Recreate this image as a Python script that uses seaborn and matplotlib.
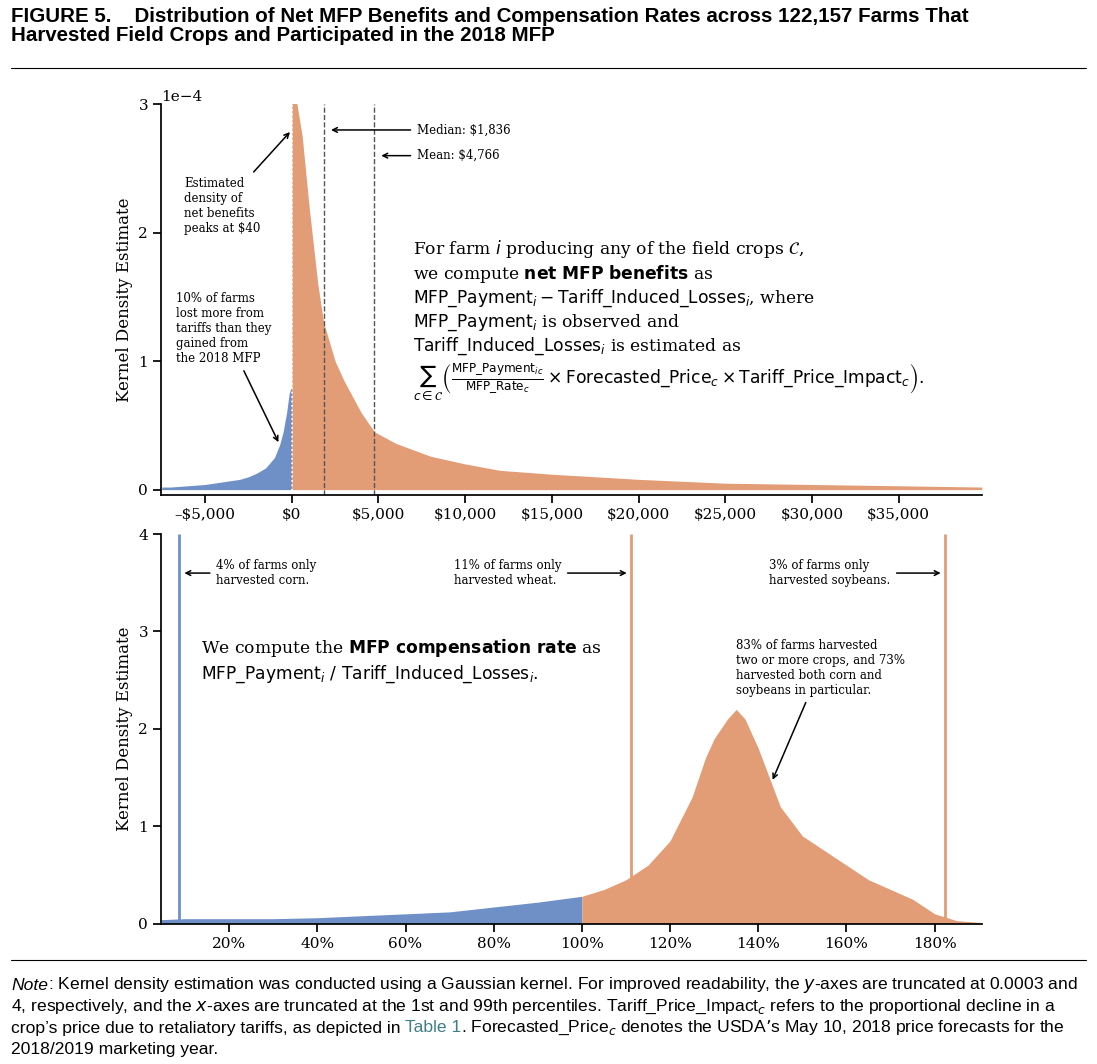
import matplotlib.pyplot as plt
import seaborn as sns
import numpy as np

# ---- data ----
# top panel: density of net MFP benefits (in units of 1e-4)
net_x = [-7500, -7000, -6000, -5000, -4000, -3000, -2500, -2000, -1500, -1000, -700, -500, -300, -150, -50, -1,
         0, 40, 300, 600, 1000, 1500, 1836, 2500, 3000, 4000, 4766, 6000, 8000, 10000, 12000, 15000,
         20000, 25000, 30000, 35000, 39800]
net_y = [0.02, 0.02, 0.03, 0.04, 0.06, 0.08, 0.10, 0.13, 0.17, 0.25, 0.35, 0.45, 0.60, 0.75, 0.79, 0.80,
         3.2, 3.2, 3.0, 2.75, 2.2, 1.6, 1.3, 1.0, 0.85, 0.6, 0.45, 0.36, 0.26, 0.2, 0.15, 0.12,
         0.08, 0.05, 0.04, 0.03, 0.02]
median_val = 1836
mean_val = 4766
top_ticks = [-5000, 0, 5000, 10000, 15000, 20000, 25000, 30000, 35000]
top_labels = ['–$5,000', '$0', '$5,000', '$10,000', '$15,000', '$20,000', '$25,000', '$30,000', '$35,000']
top_yticks = [0, 1, 2, 3]

# bottom panel: density of compensation rate (%)
rate_x = [4.6, 10, 20, 30, 40, 50, 60, 70, 80, 90, 100, 105, 110, 115, 120, 125, 128, 130, 133, 135,
          137, 140, 145, 150, 155, 160, 165, 170, 175, 180, 185, 190.7]
rate_y = [0.04, 0.05, 0.05, 0.05, 0.06, 0.08, 0.10, 0.12, 0.17, 0.22, 0.28, 0.35, 0.45, 0.60, 0.85, 1.3, 1.7,
          1.9, 2.1, 2.2, 2.1, 1.8, 1.2, 0.9, 0.75, 0.6, 0.45, 0.35, 0.25, 0.10, 0.03, 0.01]
spikes = [8.7, 111.2, 182.4]
bot_ticks = [20, 40, 60, 80, 100, 120, 140, 160, 180]

BLUE = '#6f8fc7'
ORANGE = '#e29c76'

sns.set_theme(style='ticks')
plt.rcParams['font.family'] = ['DejaVu Serif']
plt.rcParams['mathtext.fontset'] = 'dejavusans'
plt.rcParams['text.color'] = 'black'
plt.rcParams['axes.labelcolor'] = 'black'
plt.rcParams['xtick.color'] = 'black'
plt.rcParams['ytick.color'] = 'black'
plt.rcParams['axes.edgecolor'] = 'black'

fig = plt.figure(figsize=(10.97, 10.64), dpi=100)
ax1 = fig.add_axes([0.147, 0.535, 0.748, 0.367])
ax2 = fig.add_axes([0.147, 0.132, 0.748, 0.366])

# ---- top ----
nx = np.array(net_x, float)
ny = np.array(net_y)
neg = nx < 0
ax1.fill_between(nx[neg], 0, ny[neg], color=BLUE, lw=0)
ax1.fill_between(nx[~neg], 0, ny[~neg], color=ORANGE, lw=0)
ax1.axvline(0, color='white', ls=':', lw=1.2)
ax1.axvline(median_val, color='#555555', ls='--', lw=1)
ax1.axvline(mean_val, color='#555555', ls='--', lw=1)
ax1.set_xlim(-7530, 39800)
ax1.set_ylim(-0.04, 3)
ax1.set_yticks(top_yticks)
ax1.set_xticks(top_ticks)
ax1.set_xticklabels(top_labels, fontsize=11)
ax1.tick_params(labelsize=11)
ax1.set_ylabel('Kernel Density Estimate', fontsize=12)
sns.despine(ax=ax1)
ax1.text(0.0, 1.0, '1e\u22124', transform=ax1.transAxes, fontsize=11, va='bottom', ha='left')

ap = dict(arrowstyle='->', color='black', lw=1.1)
ax1.annotate('Median: $1,836', xy=(2100, 2.8), xytext=(7200, 2.8), fontsize=8.5,
             va='center', arrowprops=ap)
ax1.annotate('Mean: $4,766', xy=(5000, 2.6), xytext=(7200, 2.6), fontsize=8.5,
             va='center', arrowprops=ap)
ax1.annotate('Estimated\ndensity of\nnet benefits\npeaks at $40', xy=(0, 2.8), xytext=(-6200, 1.98),
             fontsize=8.5, va='bottom', arrowprops=ap)
ax1.annotate('10% of farms\nlost more from\ntariffs than they\ngained from\nthe 2018 MFP', xy=(-700, 0.35),
             xytext=(-6700, 0.97), fontsize=8.5, va='bottom', arrowprops=ap)
ax1.text(7000, 0.68,
         "For farm $i$ producing any of the field crops $\\mathcal{C}$,\n"
         "we compute $\\mathbf{net\\ MFP\\ benefits}$ as\n"
         "$\\mathrm{MFP\\_Payment}_i - \\mathrm{Tariff\\_Induced\\_Losses}_i$, where\n"
         "$\\mathrm{MFP\\_Payment}_i$ is observed and\n"
         "$\\mathrm{Tariff\\_Induced\\_Losses}_i$ is estimated as\n"
         "$\\sum_{c\\in\\mathcal{C}}\\left(\\frac{\\mathrm{MFP\\_Payment}_{ic}}{\\mathrm{MFP\\_Rate}_c}"
         "\\times \\mathrm{Forecasted\\_Price}_c \\times \\mathrm{Tariff\\_Price\\_Impact}_c\\right)$.",
         fontsize=12.3, va='bottom', linespacing=1.2)

# ---- bottom ----
rx = np.array(rate_x)
ry = np.array(rate_y)
lo = rx <= 100
hi = rx >= 100
ax2.fill_between(rx[lo], 0, ry[lo], color=BLUE, lw=0)
ax2.fill_between(rx[hi], 0, ry[hi], color=ORANGE, lw=0)
ax2.vlines(spikes[0], 0, 4, color=BLUE, lw=2)
ax2.vlines(spikes[1:], 0, 4, color=ORANGE, lw=2)
ax2.set_xlim(4.6, 190.7)
ax2.set_ylim(0, 4)
ax2.set_yticks([0, 1, 2, 3, 4])
ax2.set_xticks(bot_ticks)
ax2.set_xticklabels([f'{t}%' for t in bot_ticks])
ax2.tick_params(labelsize=11)
ax2.set_ylabel('Kernel Density Estimate', fontsize=12)
sns.despine(ax=ax2)

ax2.annotate('4% of farms only\nharvested corn.', xy=(9.2, 3.6), xytext=(17, 3.6), fontsize=8.5,
             va='center', arrowprops=ap)
ax2.annotate('11% of farms only\nharvested wheat.', xy=(110.8, 3.6), xytext=(71, 3.6), fontsize=8.5,
             va='center', arrowprops=ap)
ax2.annotate('3% of farms only\nharvested soybeans.', xy=(182, 3.6), xytext=(142.5, 3.6), fontsize=8.5,
             va='center', arrowprops=ap)
ax2.annotate('83% of farms harvested\ntwo or more crops, and 73%\nharvested both corn and\nsoybeans in particular.',
             xy=(143, 1.45), xytext=(135, 2.33), fontsize=8.5, va='bottom', arrowprops=ap)
ax2.text(13.5, 2.45, "We compute the $\\mathbf{MFP\\ compensation\\ rate}$ as\n"
         "$\\mathrm{MFP\\_Payment}_i\\ /\\ \\mathrm{Tariff\\_Induced\\_Losses}_i$.",
         fontsize=12.3, va='bottom', linespacing=1.3)

# ---- title, rules, note ----
sans = ['Liberation Sans', 'DejaVu Sans']
fig.text(0.01, 0.993, 'FIGURE 5.    Distribution of Net MFP Benefits and Compensation Rates across 122,157 Farms That\n'
         'Harvested Field Crops and Participated in the 2018 MFP', family=sans, fontsize=14.8,
         fontweight='bold', va='top', linespacing=0.95)
for yy in [1 - 68 / 1064, 1 - 960 / 1064]:
    fig.add_artist(plt.Line2D([0.01, 0.99], [yy, yy], color='black', lw=0.8))

ny0 = 1 - 985 / 1064
dy = 21.5 / 1064
nfs = 12.6
fig.text(0.01, ny0, 'Note', family=sans, fontsize=nfs, style='italic', va='center')
fig.text(0.044, ny0, ': Kernel density estimation was conducted using a Gaussian kernel. For improved readability, the $y$-axes are truncated at 0.0003 and',
         family=sans, fontsize=nfs, va='center')
fig.text(0.01, ny0 - dy, '4, respectively, and the $x$-axes are truncated at the 1st and 99th percentiles. Tariff_Price_Impact$_c$ refers to the proportional decline in a',
         family=sans, fontsize=nfs, va='center')
t1 = fig.text(0.01, ny0 - 2 * dy, 'crop\u2019s price due to retaliatory tariffs, as depicted in', family=sans,
              fontsize=nfs, va='center')
r = fig.canvas.get_renderer()
x1 = t1.get_window_extent(r).x1 / fig.bbox.width + 0.004
t2 = fig.text(x1, ny0 - 2 * dy, 'Table 1', family=sans, fontsize=nfs, va='center', color='#3f7f86')
x2 = t2.get_window_extent(r).x1 / fig.bbox.width
fig.text(x2, ny0 - 2 * dy, '. Forecasted_Price$_c$ denotes the USDA\u2019s May 10, 2018 price forecasts for the',
         family=sans, fontsize=nfs, va='center')
fig.text(0.01, ny0 - 3 * dy, '2018/2019 marketing year.', family=sans, fontsize=nfs, va='center')

fig.savefig('out.png', dpi=100)
